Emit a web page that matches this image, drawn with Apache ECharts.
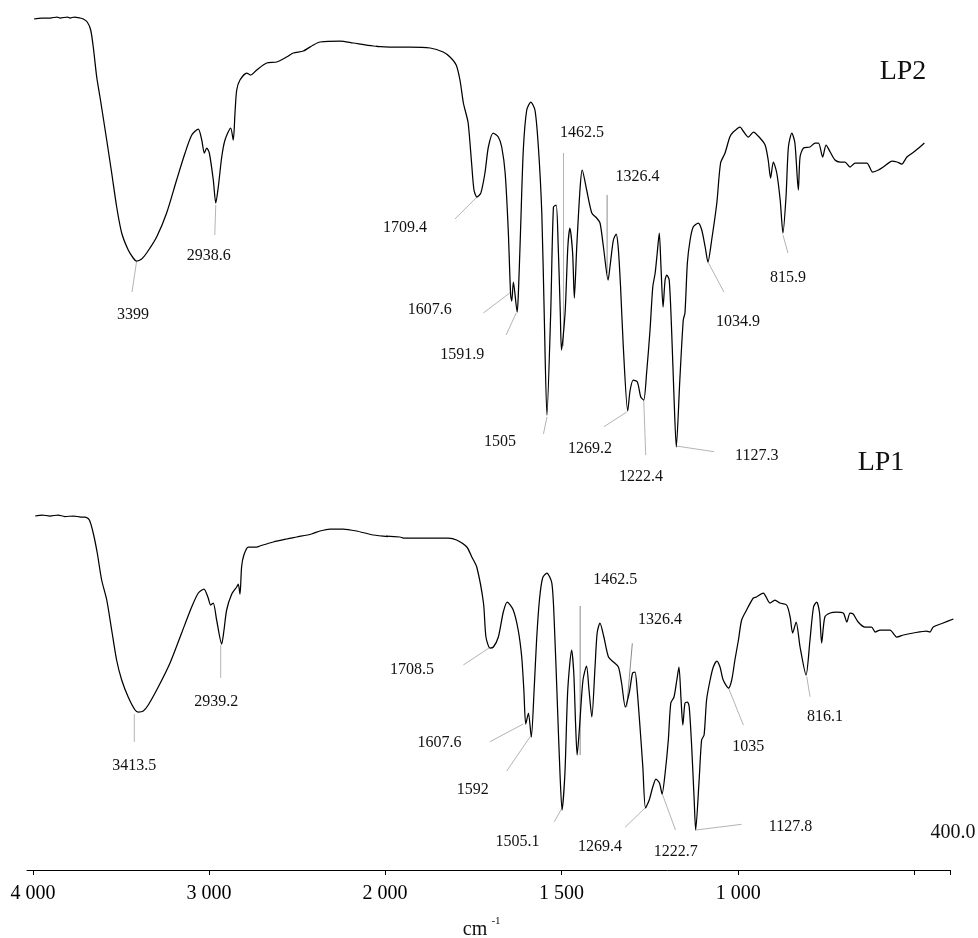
<!DOCTYPE html>
<html>
<head>
<meta charset="utf-8">
<title>FTIR spectra LP1 / LP2</title>
<script src="https://cdn.jsdelivr.net/npm/echarts@6.0.0/dist/echarts.min.js"></script>
<style>
  html, body { margin: 0; padding: 0; background: #ffffff; }
  #chart { width: 978px; height: 938px; }
</style>
</head>
<body>
<div id="chart"></div>
<script>
// ---- Spectra: [wavenumber (cm-1), transmittance (a.u., stacked)] ----
const lp2Trace = [
  [3994,85.1],[3950,85.2],[3901,85.2],[3860,85.3],[3843,85.2],[3800,85.3],[3785,85.2],[3760,85.3],
  [3727,85.2],[3708,85.1],[3685,84.8],[3665,84.0],[3650,82.3],[3630,79.3],[3611,77.3],[3572,73.0],
  [3543,69.7],[3514,66.3],[3485,63.7],[3447,62.0],[3418,61.2],[3399,60.9],[3369,61.1],[3340,61.7],
  [3282,63.3],[3224,65.7],[3166,69.0],[3117,71.7],[3078,73.5],[3040,74.1],[3020,73.0],[3005,71.7],
  [2991,72.2],[2976,71.7],[2953,69.0],[2938.6,66.7],[2924,68.3],[2904,71.3],[2885,73.0],[2852,74.2],
  [2837,73.0],[2827,75.7],[2817,78.0],[2798,79.0],[2759,79.7],[2736,79.5],[2701,80.0],[2643,80.7],
  [2585,80.8],[2527,81.3],[2488,81.7],[2430,81.9],[2372,82.5],[2333,82.8],[2217,82.9],[2140,82.7],
  [2024,82.4],[1963,82.3],[1905,82.3],[1846,82.2],[1808,81.8],[1788,81.3],[1770,80.5],[1759,79.0],
  [1749,76.7],[1744,76.0],[1735,74.7],[1725,70.7],[1718,68.0],[1709.4,67.3],[1698,67.7],[1686,69.7],
  [1676,72.3],[1662,73.7],[1647,73.3],[1637,72.3],[1627,69.7],[1618,64.0],[1611,57.5],[1607.6,56.9],
  [1603,58.8],[1591.9,55.8],[1588,58.0],[1582,64.0],[1574,72.0],[1564,76.0],[1552,76.8],[1540,76.0],
  [1530,72.3],[1520,65.7],[1513,55.7],[1505,45.5],[1494,55.7],[1486,66.3],[1478,66.5],[1472,62.3],
  [1466,55.7],[1462.5,52.0],[1452,55.7],[1444,62.3],[1438,64.2],[1430,61.7],[1425,57.2],[1418,62.3],
  [1408,68.3],[1402,70.0],[1389,68.0],[1374,65.7],[1360,65.2],[1350,64.7],[1340,62.3],[1326.4,59.0],
  [1321,60.3],[1311,63.0],[1303,63.6],[1297,62.3],[1290,58.3],[1282,52.3],[1269.2,45.9],[1262,48.0],
  [1253,49.0],[1241,48.8],[1231,47.3],[1222.4,47.0],[1214,49.7],[1204,54.0],[1196,58.3],[1189,59.7],
  [1183,61.7],[1177,63.7],[1172,60.3],[1166,56.3],[1160,59.0],[1155,59.5],[1148,59.0],[1141,54.0],
  [1134,47.3],[1127.3,42.3],[1117,49.0],[1107,55.0],[1102,55.7],[1095,60.7],[1087,63.0],[1078,64.3],
  [1063,64.7],[1053,64.0],[1043,62.3],[1034.9,60.8],[1024,63.0],[1009,66.7],[998,70.7],[985,71.7],
  [971,73.3],[961,73.8],[941,74.3],[932,73.9],[917,73.3],[902,73.8],[883,73.2],[868,72.5],
  [859,71.0],[852,69.2],[844,70.8],[834,69.7],[824,67.0],[815.9,63.7],[807,67.3],[800,72.3],
  [790,73.7],[781,72.7],[771,68.0],[766,71.3],[756,72.2],[737,72.3],[722,72.7],[712,72.7],
  [700,71.3],[690,72.5],[678,71.8],[664,71.0],[649,70.8],[635,70.8],[620,70.3],[605,70.7],
  [571,70.7],[554,69.8],[537,70.0],[523,70.3],[497,70.9],[483,70.8],[469,70.6],[454,71.3],
  [434,71.8],[416,72.3],[403,72.7]
];

const lp1Trace = [
  [4000,35.4],[3960,35.5],[3916,35.4],[3870,35.5],[3831,35.35],[3780,35.4],[3740,35.3],[3717,35.3],
  [3692,35.0],[3670,33.7],[3647,31.7],[3622,29.0],[3593,27.0],[3565,24.0],[3537,21.0],[3508,19.0],
  [3471,17.3],[3432,16.0],[3413.5,15.8],[3385,15.9],[3357,16.5],[3300,18.3],[3233,20.7],[3167,23.7],
  [3110,26.3],[3072,27.7],[3040,28.1],[3016,27.2],[3002,26.5],[2987,26.7],[2968,25.0],[2939.2,22.6],
  [2926,24.0],[2911,26.0],[2882,27.6],[2854,28.3],[2845,28.6],[2835,27.6],[2826,30.3],[2813,31.5],
  [2788,32.3],[2740,32.3],[2722,32.4],[2646,32.8],[2570,33.1],[2513,33.3],[2428,33.6],[2380,33.9],
  [2324,34.1],[2248,34.1],[2172,33.9],[2077,33.5],[1963,33.3],[1953,33.2],[1826,33.2],[1803,33.0],
  [1774,32.3],[1760,31.3],[1746,30.3],[1727,26.7],[1720,23.3],[1708.5,22.2],[1699,22.3],[1685,23.3],
  [1671,25.8],[1660,26.8],[1643,26.0],[1629,24.0],[1619,21.3],[1613,18.0],[1607.6,14.6],[1600,15.7],
  [1592,13.3],[1584,18.0],[1577,23.0],[1569,27.0],[1560,29.2],[1548,29.7],[1534,28.7],[1527,24.7],
  [1518,16.3],[1511,9.7],[1505.1,6.0],[1497,9.7],[1489,18.0],[1478,22.0],[1472,19.7],[1467,14.7],
  [1462.5,11.5],[1455,14.7],[1446,19.0],[1436,20.4],[1429,18.0],[1421,15.3],[1412,20.3],[1406,23.7],
  [1398,24.7],[1387,23.3],[1374,21.3],[1360,20.8],[1346,20.3],[1337,18.7],[1326.4,16.3],[1315,17.8],
  [1306,19.7],[1299,19.8],[1293,18.0],[1285,14.3],[1277,10.3],[1269.4,6.2],[1259,7.0],[1249,8.3],
  [1240,9.1],[1230,8.7],[1222.7,7.6],[1214,9.7],[1205,13.0],[1198,16.7],[1189,17.3],[1181,19.0],
  [1175,20.3],[1169,17.0],[1164,14.5],[1158,16.7],[1151,16.8],[1146,16.3],[1139,12.3],[1132,7.0],
  [1127.8,4.0],[1118,9.0],[1111,13.0],[1104,13.5],[1097,17.0],[1087,19.0],[1078,20.3],[1068,20.9],
  [1059,20.3],[1050,19.0],[1035,18.2],[1026,19.0],[1017,21.0],[1007,23.0],[998,25.0],[984,26.0],
  [965,27.2],[956,27.3],[937,27.7],[918,26.7],[904,27.0],[890,26.7],[871,26.5],[861,25.3],
  [854,23.7],[844,24.8],[833,22.3],[816.1,19.5],[805,23.0],[795,26.3],[786,26.8],[778,25.7],
  [772,22.7],[763,25.3],[748,25.7],[730,25.8],[711,25.7],[701,24.8],[692,25.7],[683,25.6],
  [669,24.8],[650,24.3],[631,24.3],[621,23.8],[607,24.0],[579,24.0],[560,23.3],[541,23.5],
  [513,23.7],[476,23.9],[466,23.8],[457,24.3],[429,24.7],[400,25.1]
];

// ---- Annotated band positions (cm-1) ----
const lp2Peaks = [3399, 2938.6, 1709.4, 1607.6, 1591.9, 1505, 1462.5, 1326.4, 1269.2, 1222.4, 1127.3, 1034.9, 815.9];
const lp1Peaks = [3413.5, 2939.2, 1708.5, 1607.6, 1592, 1505.1, 1462.5, 1326.4, 1269.4, 1222.7, 1127.8, 1035, 816.1];

// ---- Axis ticks (cm-1) ----
const highTicks = [4000, 3000, 2000];
const highLabels = [4000, 3000, 2000];
const lowTicks = [1500, 1000, 500, 400];
const lowLabels = [1500, 1000];

// ---------------------------------------------------------------
const SERIF = '"Liberation Serif", "Times New Roman", serif';
const BREAK = 2000; // scale changes at 2000 cm-1

function highPart(trace) {
  const i = trace.findIndex(p => p[0] < BREAK);
  return trace.slice(0, i + 1);
}
function lowPart(trace) {
  const i = trace.findIndex(p => p[0] < BREAK);
  return trace.slice(i - 1);
}
function spaced(v) {
  return String(v).replace(/\B(?=(\d{3})+(?!\d))/g, ' ');
}

// plotting frame (pixels): top 10, bottom edge at 870
const TOP = 10, H = 860;
const grids = [
  { left: 27,    top: TOP, width: 358,   height: H },  // 0 visible axis, 4034..2000
  { left: 385,   top: TOP, width: 565,   height: H },  // 1 visible axis, 2000..400
  { left: 33,    top: TOP, width: 344.4, height: H },  // 2 LP2, 4000..2000
  { left: 377.4, top: TOP, width: 548,   height: H },  // 3 LP2, 2000..400
  { left: 35.2,  top: TOP, width: 351.6, height: H },  // 4 LP1, 4000..2000
  { left: 386.8, top: TOP, width: 566.6, height: H }   // 5 LP1, 2000..400
];

const axisCommon = {
  type: 'value', inverse: true, position: 'bottom',
  splitLine: { show: false }
};
const visibleAxis = (idx, min, max, ticks, labels) => Object.assign({}, axisCommon, {
  gridIndex: idx, min, max,
  axisLine: { show: true, onZero: false, lineStyle: { color: '#000', width: 1 } },
  axisTick: { show: true, inside: false, length: 5, customValues: ticks, lineStyle: { color: '#000', width: 1 } },
  axisLabel: {
    show: true, customValues: labels, formatter: v => spaced(v),
    color: '#000', fontFamily: SERIF, fontSize: 20, margin: 14,
    showMinLabel: true, showMaxLabel: true
  }
});
const hiddenAxis = (idx, min, max) => Object.assign({}, axisCommon, {
  gridIndex: idx, min, max, show: false
});

const xAxis = [
  visibleAxis(0, 2000, 4034, highTicks, highLabels),
  visibleAxis(1, 400, 2000, lowTicks, lowLabels),
  hiddenAxis(2, 2000, 4000),
  hiddenAxis(3, 400, 2000),
  hiddenAxis(4, 2000, 4000),
  hiddenAxis(5, 400, 2000)
];
const yAxis = grids.map((g, i) => ({ type: 'value', gridIndex: i, min: 0, max: 86, show: false }));

const lineSeries = (name, idx, data) => ({
  name, type: 'line', xAxisIndex: idx, yAxisIndex: idx, data,
  showSymbol: false, symbol: 'none', smooth: 0.25, clip: true,
  lineStyle: { color: '#000', width: 1.25 }, silent: true
});

const chart = echarts.init(document.getElementById('chart'), null, { renderer: 'canvas' });
chart.setOption({
  animation: false,
  backgroundColor: '#ffffff',
  grid: grids,
  xAxis, yAxis,
  series: [
    lineSeries('LP2', 2, highPart(lp2Trace)),
    lineSeries('LP2', 3, lowPart(lp2Trace)),
    lineSeries('LP1', 4, highPart(lp1Trace)),
    lineSeries('LP1', 5, lowPart(lp1Trace))
  ]
});

// ---- Band annotations: leader start/end and text centre, offsets in px from the band point ----
const lp2Layout = {
  3399:   [0, 1, -4.5, 31, -3.5, 54],
  2938.6: [0, 2, -1, 32, -7, 53],
  1709.4: [0, 0, -22, 22, -72, 31],
  1607.6: [-2, -8, -28.5, 12, -82, 9],
  1591.9: [-1, 1, -11, 23, -55, 43],
  1505:   [0, 2, -3.5, 19, -47, 27],
  1462.5: [2, -4, 2, -197, 20.5, -217],
  1326.4: [-1, -7, -1, -85, 29.5, -103],
  1269.2: [-1, 1, -23.7, 15.7, -37.7, 37.3],
  1222.4: [0, 0, 2, 55, -2.7, 77],
  1127.3: [0, -1, 37.7, 4.7, 80.4, 9],
  1034.9: [0, 0, 16, 30, 30, 60],
  815.9:  [0, 2, 5, 20, 5, 45]
};
const lp1Layout = {
  3413.5: [-4, 2, -4, 30, -4, 54],
  2939.2: [-1, 1, -1, 34, -5.4, 57.7],
  1708.5: [-1, 0, -26.7, 17, -78, 22],
  1607.6: [-2.5, 0, -35.8, 17.7, -86.3, 18.7],
  1592:   [-0.6, -1, -24.6, 34, -58.6, 53],
  1505.1: [0, -2, -7.7, 11.7, -44.5, 31.7],
  1462.5: [3, 0, 3, -149, 38, -175],
  1326.4: [1.4, 0, 7, -63.7, 34.7, -87],
  1269.4: [-0.5, 0, -20.5, 19.3, -45.5, 38.7],
  1222.7: [-0.6, -2.3, 13.4, 36, 13.7, 57.7],
  1127.8: [0.3, 0, 46, -5.7, 94.8, -3.3],
  1035:   [0, 0, 14.8, 37, 19.8, 58.7],
  816.1:  [0.7, 1.7, 4, 21.7, 19, 41.7]
};
const darkLeaders = { lp2: [1326.4], lp1: [1326.4, 1462.5] };

const graphic = [];
function annotate(trace, peaks, layout, hiIdx, loIdx, dark) {
  peaks.forEach(wn => {
    const pt = trace.find(p => p[0] === wn);
    const idx = wn >= BREAK ? hiIdx : loIdx;
    const [px, py] = chart.convertToPixel({ xAxisIndex: idx, yAxisIndex: idx }, pt);
    const o = layout[wn];
    graphic.push({
      type: 'line', silent: true,
      shape: { x1: px + o[0], y1: py + o[1], x2: px + o[2], y2: py + o[3] },
      style: { stroke: dark.includes(wn) ? '#8a8a8a' : '#b4b4b4', lineWidth: 1 }
    });
    graphic.push({
      type: 'text', silent: true, x: px + o[4], y: py + o[5],
      style: {
        text: String(wn), fill: '#111', fontFamily: SERIF, fontSize: 16,
        align: 'center', verticalAlign: 'middle'
      }
    });
  });
}
annotate(lp2Trace, lp2Peaks, lp2Layout, 2, 3, darkLeaders.lp2);
annotate(lp1Trace, lp1Peaks, lp1Layout, 4, 5, darkLeaders.lp1);

const textEl = (text, x, y, size) => ({
  type: 'text', silent: true, x, y,
  style: { text, fill: '#111', fontFamily: SERIF, fontSize: size, align: 'center', verticalAlign: 'middle' }
});
graphic.push(textEl('LP2', 903, 72, 28));
graphic.push(textEl('LP1', 881, 463, 28));
graphic.push(textEl('400.0', 953, 833, 20));
graphic.push(textEl('cm', 475, 930, 20));
graphic.push(textEl('-1', 496, 921, 11));

chart.setOption({ graphic });
</script>
</body>
</html>
